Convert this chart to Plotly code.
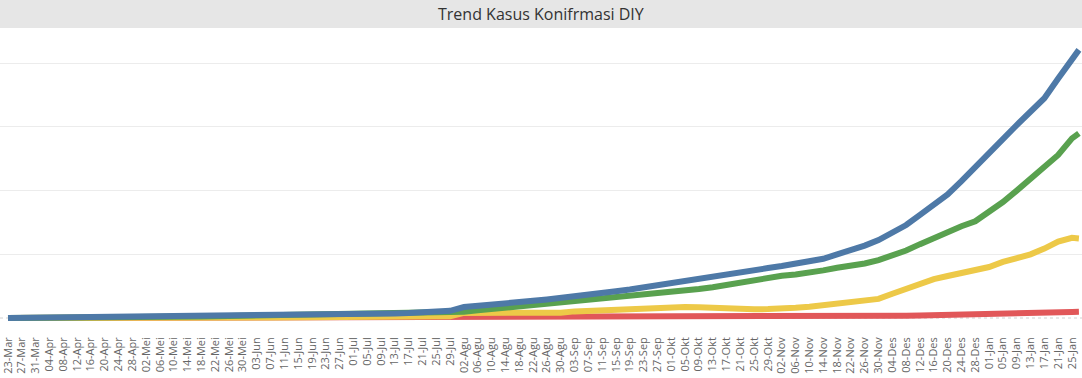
import pandas as pd
import plotly.graph_objects as go

dates = list(pd.date_range("2020-03-23", "2021-01-25", freq="4D")) + [pd.Timestamp("2021-01-27")]

konfirmasi = [6, 15, 27, 35, 48, 60, 67, 75, 82, 90, 105, 120, 140, 165, 185, 200, 215, 225, 232, 240,
              250, 258, 265, 275, 285, 295, 310, 330, 360, 390, 430, 480, 560, 860, 940, 1050, 1150, 1250,
              1350, 1460, 1570, 1700, 1830, 1960, 2100, 2240, 2420, 2580, 2720, 2880, 3040, 3250, 3450,
              3620, 3760, 3920, 4080, 4250, 4420, 4650, 5000, 5300, 5680, 6120, 6650, 7300, 8100, 8850,
              9700, 10750, 11900, 13000, 14050, 15150, 16250, 17250, 18800, 20300, 21050]

sembuh = [0, 1, 2, 3, 5, 10, 15, 25, 35, 45, 55, 70, 85, 100, 120, 140, 160, 175, 190, 200,
          210, 220, 230, 240, 250, 260, 270, 285, 300, 320, 340, 370, 410, 500, 600, 700, 790, 880,
          970, 1070, 1180, 1280, 1380, 1480, 1590, 1700, 1840, 1960, 2080, 2180, 2280, 2420, 2600,
          2820, 3020, 3200, 3320, 3420, 3550, 3740, 3950, 4100, 4280, 4550, 4900, 5300, 5800, 6300,
          6800, 7200, 7600, 8300, 9100, 10000, 10900, 11800, 12800, 14100, 14500]

dirawat = [5, 13, 24, 31, 41, 48, 50, 48, 45, 42, 45, 44, 48, 57, 57, 52, 47, 42, 34, 32,
           32, 30, 27, 27, 27, 27, 32, 37, 50, 60, 78, 98, 135, 400, 390, 380, 380, 370,
           380, 390, 420, 520, 570, 610, 650, 700, 780, 820, 850, 860, 850, 800, 730,
           690, 690, 700, 720, 800, 880, 1000, 1120, 1250, 1380, 1500, 1900, 2300, 2700, 3050,
           3300, 3550, 3700, 4000, 4400, 4650, 5000, 5450, 6000, 6300, 6250]

meninggal = [0, 1, 2, 2, 3, 4, 5, 6, 7, 7, 7, 7, 7, 7, 8, 8, 8, 8, 8, 8,
             8, 8, 8, 8, 8, 8, 8, 9, 10, 12, 14, 16, 18, 20, 22, 25, 28, 32,
             36, 40, 44, 48, 52, 56, 60, 64, 68, 72, 76, 80, 84, 88, 92,
             96, 100, 104, 108, 112, 118, 124, 130, 138, 146, 155, 165, 178, 192, 208,
             225, 245, 268, 292, 318, 345, 375, 405, 440, 480, 495]

bulan = {1: "Jan", 2: "Feb", 3: "Mar", 4: "Apr", 5: "Mei", 6: "Jun", 7: "Jul",
         8: "Agu", 9: "Sep", 10: "Okt", 11: "Nov", 12: "Des"}
tick_dates = list(pd.date_range("2020-03-23", "2021-01-25", freq="4D"))
tick_text = [f"{d.day:02d}-{bulan[d.month]}" for d in tick_dates]

grid_vals = [5000, 10000, 15000, 20000]

title_text = "Trend Kasus Konifrmasi DIY"

# ---- figure ----
series = [
    ("Meninggal", meninggal, "#e15759"),
    ("Dirawat", dirawat, "#edc948"),
    ("Sembuh", sembuh, "#59a14f"),
    ("Konfirmasi", konfirmasi, "#4e79a7"),
]

fig = go.Figure()
for name, vals, col in series:
    fig.add_trace(go.Scatter(x=dates, y=vals, name=name, mode="lines",
                             line=dict(color=col, width=6), showlegend=False))

plot_h = 378 - 30 - 57

fig.update_layout(
    width=1082, height=378,
    margin=dict(l=0, r=0, t=30, b=57, pad=0, autoexpand=False),
    paper_bgcolor="white", plot_bgcolor="white",
    font=dict(family="Open Sans, sans-serif", color="#555"),
    showlegend=False,
    xaxis=dict(
        range=["2020-03-20 16:25", "2021-01-27 21:29"],
        tickvals=tick_dates, ticktext=tick_text, tickangle=-90,
        tickfont=dict(size=11, color="#666"),
        showgrid=False, zeroline=False, showline=False, ticks="",
        ticklabelstandoff=13, ticklabeloverflow="allow", automargin=False,
    ),
    yaxis=dict(
        range=[-235, 22610],
        tickvals=grid_vals, showticklabels=False,
        showgrid=True, gridcolor="#ececec", gridwidth=1,
        zeroline=False, showline=False, automargin=False,
    ),
    shapes=[
        dict(type="rect", xref="paper", yref="paper", x0=0, x1=1,
             y0=1 + 2 / plot_h, y1=1 + 30 / plot_h,
             fillcolor="#e6e6e6", line=dict(width=0), layer="below"),
        dict(type="line", xref="paper", yref="y", x0=0, x1=1, y0=0, y1=0,
             line=dict(color="#d0d0d0", width=1, dash="dot"), layer="below"),
    ],
    annotations=[
        dict(text=title_text, xref="paper", yref="paper", x=0.5,
             y=1 + 16 / plot_h, yanchor="middle", showarrow=False,
             font=dict(family="Open Sans, sans-serif", size=16, color="#333")),
    ],
)

fig.write_html("out.html",
               config={"displayModeBar": False},
               post_script="document.body.style.margin='0px';document.body.style.padding='0px';")
